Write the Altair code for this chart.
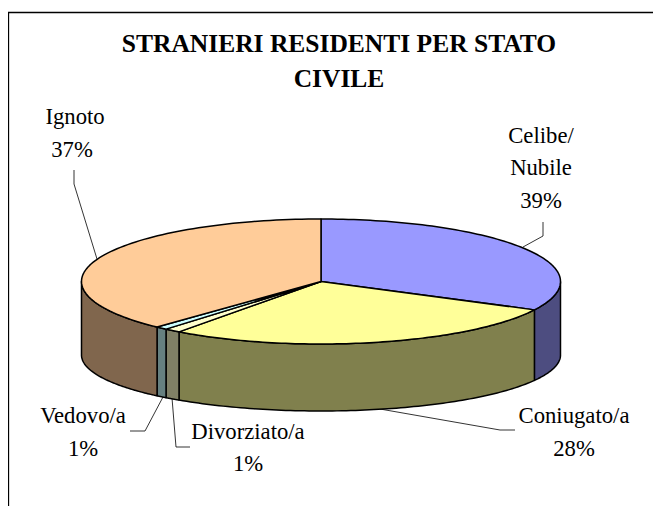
import numpy as np
import pandas as pd
import altair as alt

categories = ["Celibe/Nubile", "Coniugato/a", "Divorziato/a", "Vedovo/a", "Ignoto"]
shares = [32.5, 27.6, 1.1, 0.8, 38.0]          # slice sizes as drawn
top_colors = ["#9999FF", "#FFFF99", "#FFFFCC", "#CCFFFF", "#FFCC99"]
side_colors = ["#4D4D80", "#80804D", "#808066", "#668080", "#80664D"]

title_lines = ["STRANIERI RESIDENTI PER STATO", "CIVILE"]
label_lines = ["Ignoto", "37%", "Celibe/", "Nubile", "39%", "Coniugato/a", "28%", "Vedovo/a", "1%", "Divorziato/a", "1%"]
label_x = [75, 72, 541, 541, 541, 574, 574, 83, 83, 248, 248]
label_y = [117, 150, 136, 168, 201, 416, 449, 416, 449, 432, 464]

leaders = {
    "Ignoto": ([74, 74, 97], [170, 184, 259]),
    "Celibe": ([543, 543, 523], [222, 236, 247]),
    "Coniugato": ([380, 500, 515], [409, 430, 430]),
    "Vedovo": ([130, 145, 163], [431, 431, 397]),
    "Divorziato": ([172, 176, 190], [398, 447, 447]),
}
frame_x = [8.5, 8.5, 653]
frame_y = [506, 12.5, 12.5]

CX, CY, A, B = 321, 281.5, 239.5, 62.5
LOW_CY, LOW_B = 355, 56

def top_pt(t):
    return CX + A * np.sin(t), CY - B * np.cos(t)

def low_pt(t):
    return CX + A * np.sin(t), LOW_CY - LOW_B * np.cos(t)

rows = []
def add(name, kind, xs, ys, color):
    for i, (x, y) in enumerate(zip(xs, ys)):
        rows.append({"id": f"{kind}-{name}", "x": float(x), "y": float(y), "i": i, "c": color})

edges = np.cumsum([0] + shares) / sum(shares) * 2 * np.pi
for k, name in enumerate(categories):
    t0, t1 = edges[k], edges[k + 1]
    ts = np.linspace(t0, t1, 90)
    # outer wall: only the part that faces the viewer
    v0, v1 = max(t0, np.pi / 2), min(t1, 3 * np.pi / 2)
    if v1 > v0:
        vs = np.linspace(v0, v1, 90)
        ux, uy = top_pt(vs)
        lx, ly = low_pt(vs[::-1])
        add(name, "side", list(ux) + list(lx) + [ux[0]], list(uy) + list(ly) + [uy[0]], side_colors[k])
    # top wedge
    ux, uy = top_pt(ts)
    add(name, "top", [CX] + list(ux) + [CX], [CY] + list(uy) + [CY], top_colors[k])
shapes = pd.DataFrame(rows)

line_rows = []
for name, (xs, ys) in leaders.items():
    for i, (x, y) in enumerate(zip(xs, ys)):
        line_rows.append({"id": name, "x": x, "y": y, "i": i})
lines = pd.DataFrame(line_rows)
frame = pd.DataFrame({"x": frame_x, "y": frame_y, "i": range(3)})
labels = pd.DataFrame({"t": label_lines, "x": label_x, "y": label_y})
titles = pd.DataFrame({"t": title_lines, "x": [339, 339], "y": [44, 79]})

X = alt.X("x:Q", scale=alt.Scale(domain=[8, 653]), axis=None)
Y = alt.Y("y:Q", scale=alt.Scale(domain=[506, 8]), axis=None)

pie = alt.Chart(shapes).mark_line(stroke="black", strokeWidth=1.5, strokeJoin="round").encode(
    x=X, y=Y, order="i:Q", detail="id:N", fill=alt.Fill("c:N", scale=None))
leader = alt.Chart(lines).mark_line(stroke="black", strokeWidth=0.8).encode(
    x=X, y=Y, order="i:Q", detail="id:N")
border = alt.Chart(frame).mark_line(stroke="black", strokeWidth=1.3).encode(x=X, y=Y, order="i:Q")
text = alt.Chart(labels).mark_text(font="Liberation Serif", fontSize=22.7, color="black").encode(x=X, y=Y, text="t:N")
head = alt.Chart(titles).mark_text(font="Liberation Serif", fontSize=25.5, fontWeight="bold", color="black").encode(x=X, y=Y, text="t:N")

chart = alt.layer(border, leader, pie, text, head).properties(
    width=645, height=498, padding=0, autosize="none", background="white"
).configure_view(stroke=None)
chart.save("out.html", embed_options={"renderer": "svg", "actions": False})
